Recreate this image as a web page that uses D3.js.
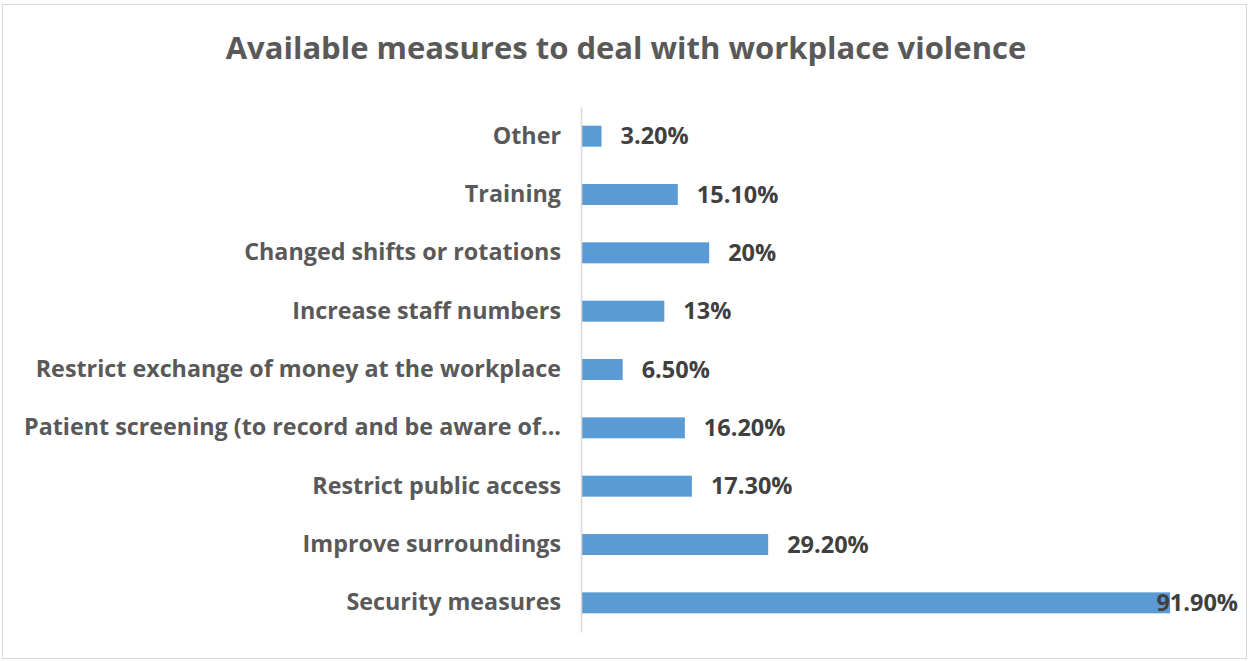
<!DOCTYPE html>
<html>
<head>
<meta charset="utf-8">
<script src="https://cdn.jsdelivr.net/npm/d3@7"></script>
<style>
  body { margin: 0; background: #fff; }
  svg text { font-family: "Open Sans", sans-serif; font-weight: bold; }
</style>
</head>
<body>
<div id="chart"></div>
<script>
var categories = ["Other", "Training", "Changed shifts or rotations", "Increase staff numbers",
  "Restrict exchange of money at the workplace", "Patient screening (to record and be aware of...",
  "Restrict public access", "Improve surroundings", "Security measures"];
var values = [3.2, 15.1, 20, 13, 6.5, 16.2, 17.3, 29.2, 91.9];
var valueLabels = ["3.20%", "15.10%", "20%", "13%", "6.50%", "16.20%", "17.30%", "29.20%", "91.90%"];
var titleText = "Available measures to deal with workplace violence";

var W = 1249, H = 661;
var plotLeft = 581, plotRight = 1222, plotTop = 107, plotBottom = 632;

var svg = d3.select("#chart").append("svg")
    .attr("width", W)
    .attr("height", H);

// chart border
svg.append("rect")
    .attr("x", 2.5).attr("y", 4.5)
    .attr("width", W - 5).attr("height", H - 7)
    .attr("fill", "#fff")
    .attr("stroke", "#d9d9d9");

svg.append("text")
    .attr("x", 626)
    .attr("y", 59)
    .attr("text-anchor", "middle")
    .attr("fill", "#595959")
    .style("font-size", "31px")
    .text(titleText);

var x = d3.scaleLinear()
    .domain([0, 100])
    .range([plotLeft, plotRight]);

var y = d3.scaleBand()
    .domain(categories)
    .range([plotTop, plotBottom])
    .paddingInner(0.64)
    .paddingOuter(0.32);

svg.selectAll(".bar")
    .data(values)
  .enter().append("rect")
    .attr("class", "bar")
    .attr("x", x(0))
    .attr("y", function(d, i) { return y(categories[i]); })
    .attr("width", function(d) { return x(d) - x(0); })
    .attr("height", y.bandwidth())
    .attr("fill", "#5b9bd5");

var yAxis = d3.axisLeft(y).tickSize(0).tickPadding(20);
var gy = svg.append("g")
    .attr("transform", "translate(" + plotLeft + ",0)")
    .call(yAxis);
gy.select(".domain").attr("stroke", "#d9d9d9").attr("stroke-width", 1.5);
gy.selectAll("text")
    .attr("fill", "#595959")
    .style("font-size", "23.3px");

var labels = svg.selectAll(".vlabel")
    .data(values)
  .enter().append("text")
    .attr("class", "vlabel")
    .attr("y", function(d, i) { return y(categories[i]) + y.bandwidth() / 2; })
    .attr("dy", "0.35em")
    .attr("fill", "#404040")
    .style("font-size", "23.5px")
    .text(function(d, i) { return valueLabels[i]; });

// keep labels inside the chart, like excel does
labels.attr("x", function(d) {
  var w = this.getComputedTextLength();
  return Math.min(x(d) + 19, 1238 - w);
});
</script>
</body>
</html>
